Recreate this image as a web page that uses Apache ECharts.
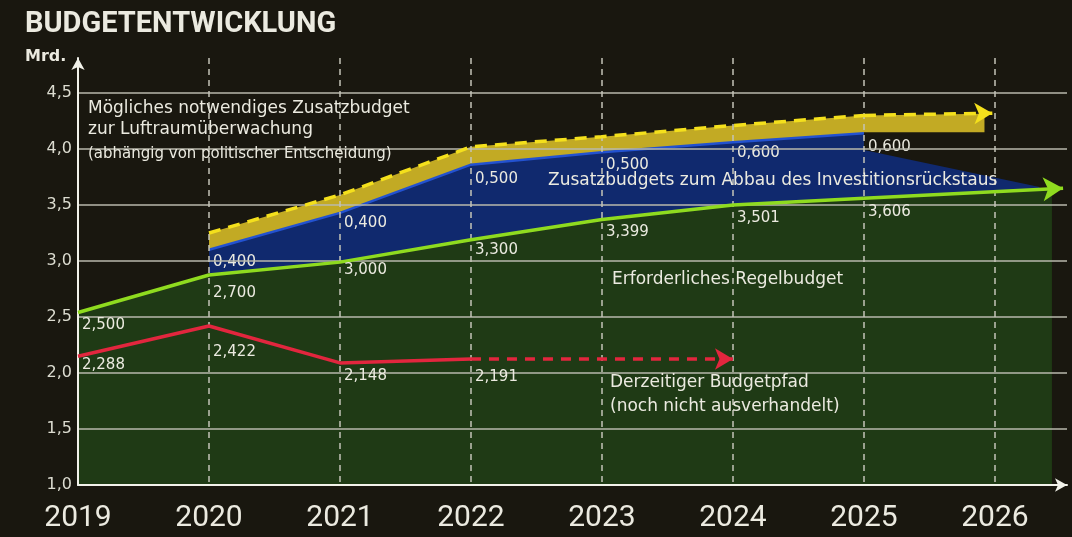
<!DOCTYPE html>
<html>
<head>
<meta charset="utf-8">
<script src="https://cdn.jsdelivr.net/npm/echarts@6/dist/echarts.min.js"></script>
<style>
  html, body { margin: 0; padding: 0; background: #19170f; }
  #main { width: 1072px; height: 537px; }
</style>
</head>
<body>
<div id="main"></div>
<script>
// values (Mrd.), label texts as printed
const years = [2019, 2020, 2021, 2022, 2023, 2024, 2025];
const regelbudget = [2.54, 2.875, 2.99, 3.19, 3.37, 3.50, 3.56];
const regelbudgetText = ['2,500', '2,700', '3,000', '3,300', '3,399', '3,501', '3,606'];
const regelbudgetArrowEnd = [2026.52, 3.65];
const regelbudgetFillEnd = [2026.435, 3.645];

const zusatzYears = [2020, 2021, 2022, 2023, 2024, 2025];
const investTop = [3.10, 3.43, 3.86, 3.97, 4.06, 4.14];
const investText = ['0,400', '0,400', '0,500', '0,500', '0,600', '0,600'];
const investTail = [[2025, 3.99], [2026.34, 3.66]];

const luftTop = [3.25, 3.59, 4.02, 4.11, 4.21, 4.30];
const luftFillEnd = [2025.92, 4.315];
const luftArrowEnd = [2025.98, 4.32];
const luftBase = 4.15;

const pfadYears = [2019, 2020, 2021, 2022];
const pfad = [2.15, 2.42, 2.09, 2.125];
const pfadText = ['2,288', '2,422', '2,148', '2,191'];
const pfadPlanEnd = [2024, 2.125];

// how far each printed value sits below its point (px)
const regelLabelDrop = [13, 18, 8, 10, 13, 13, 14];
const investLabelDrop = [12, 10, 14, 13, 11, 14];
const pfadLabelDrop = [9, 26, 13, 18];

const BG = '#19170f';
const TEXT = '#ebeae0';
const FONT = '"DejaVu Sans", sans-serif';
const HEAD = 'Roboto, "Liberation Sans", sans-serif';

const pairs = (xs, ys) => xs.map((x, i) => [x, ys[i]]);
const isStep = (v, step) => Math.abs(v / step - Math.round(v / step)) < 1e-6;

const labelled = (xs, ys, drops) => pairs(xs, ys).map((value, i) => ({
  value,
  label: { offset: [0, drops[i]] }
}));

const valueLabel = texts => ({
  show: true,
  position: 'right',
  distance: 4,
  color: TEXT,
  fontFamily: FONT,
  fontSize: 15,
  formatter: p => texts[p.dataIndex] || ''
});

const arrow = (from, to, lineStyle, size) => ({
  silent: true,
  symbol: ['none', 'arrow'],
  symbolSize: size,
  label: { show: false },
  lineStyle,
  data: [[{ coord: from }, { coord: to }]]
});

const fill = (data, color) => ({
  type: 'line',
  data,
  z: 1,
  silent: true,
  symbol: 'none',
  lineStyle: { width: 0 },
  areaStyle: { color, opacity: 1, origin: 'start' }
});

const txt = (left, top, text, size, font, bold) => ({
  type: 'text',
  left,
  top,
  z: 10,
  style: {
    text,
    fill: TEXT,
    font: `${bold ? 'bold ' : ''}${size}px ${font || FONT}`
  }
});

const chart = echarts.init(document.getElementById('main'));

chart.setOption({
  animation: false,
  backgroundColor: BG,
  grid: { left: 78, right: 5, top: 58, bottom: 52 },
  xAxis: {
    type: 'value',
    min: 2019,
    max: 2026.55,
    interval: 1,
    z: 2,
    axisLine: {
      lineStyle: { color: '#f2f2ea', width: 2 },
      symbol: ['none', 'arrow'],
      symbolSize: [10, 12]
    },
    axisTick: { show: false },
    axisLabel: {
      color: TEXT,
      fontFamily: HEAD,
      fontSize: 30,
      margin: 18,
      formatter: v => (isStep(v, 1) ? String(v) : '')
    },
    splitLine: {
      show: true,
      showMinLine: false,
      showMaxLine: false,
      lineStyle: { color: '#c4c4b8', width: 1.5, type: [6, 5] }
    }
  },
  yAxis: {
    type: 'value',
    min: 1,
    max: 4.8125,
    interval: 0.5,
    z: 2,
    axisLine: {
      show: true,
      lineStyle: { color: '#f2f2ea', width: 2 },
      symbol: ['none', 'arrow'],
      symbolSize: [10, 12]
    },
    axisTick: { show: false },
    axisLabel: {
      color: '#dcdcd0',
      fontFamily: FONT,
      fontSize: 16,
      margin: 6,
      formatter: v => (isStep(v, 0.5) ? v.toFixed(1).replace('.', ',') : '')
    },
    splitLine: {
      show: true,
      showMaxLine: false,
      lineStyle: { color: '#b8b8ac', width: 1.6 }
    }
  },
  series: [
    // painted bottom-up: each fill reaches the axis, later ones cover the lower part
    fill([...pairs(zusatzYears, luftTop), luftFillEnd], '#c2aa24'),
    // dark gap under the yellow band after 2025
    fill([[2025, luftBase], [luftArrowEnd[0], luftBase]], BG),
    fill([...pairs(zusatzYears, investTop), ...investTail], '#10296e'),
    {
      type: 'line',
      data: labelled(zusatzYears, investTop, investLabelDrop),
      z: 1,
      silent: true,
      symbol: 'circle',
      symbolSize: 0,
      lineStyle: { color: '#2352d0', width: 2.5 },
      label: valueLabel(investText)
    },
    fill([...pairs(years, regelbudget), regelbudgetFillEnd], '#1f3a15'),
    {
      type: 'line',
      data: pairs(zusatzYears, luftTop),
      z: 3,
      symbol: 'none',
      lineStyle: { color: '#f4e01c', width: 3.5, type: [12, 8] },
      markLine: arrow(
        [2025, luftTop[luftTop.length - 1]], luftArrowEnd,
        { color: '#f4e01c', width: 3.5, type: [12, 8] }, [16, 18]
      )
    },
    {
      type: 'line',
      data: labelled(years, regelbudget, regelLabelDrop),
      z: 3,
      symbol: 'circle',
      symbolSize: 0,
      lineStyle: { color: '#8fdb1f', width: 3.5 },
      label: valueLabel(regelbudgetText),
      markLine: arrow(
        [2025, regelbudget[regelbudget.length - 1]], regelbudgetArrowEnd,
        { color: '#8fdb1f', width: 3.5, type: 'solid' }, [18, 20]
      )
    },
    {
      type: 'line',
      data: labelled(pfadYears, pfad, pfadLabelDrop),
      z: 3,
      symbol: 'circle',
      symbolSize: 0,
      lineStyle: { color: '#e2263e', width: 3.5 },
      label: valueLabel(pfadText),
      markLine: arrow(
        [2022, pfad[pfad.length - 1]], pfadPlanEnd,
        { color: '#e2263e', width: 3.5, type: [10, 8] }, [16, 18]
      )
    }
  ],
  graphic: [
    txt(25, 10, 'BUDGETENTWICKLUNG', 29, HEAD, true),
    txt(25, 49, 'Mrd.', 16, FONT, true),
    txt(88, 100, 'Mögliches notwendiges Zusatzbudget', 17),
    txt(88, 121, 'zur Luftraumüberwachung', 17),
    txt(88, 147, '(abhängig von politischer Entscheidung)', 15),
    txt(548, 172, 'Zusatzbudgets zum Abbau des Investitionsrückstaus', 17),
    txt(612, 271, 'Erforderliches Regelbudget', 17),
    txt(610, 374, 'Derzeitiger Budgetpfad', 17),
    txt(610, 398, '(noch nicht ausverhandelt)', 17)
  ]
});
</script>
</body>
</html>
